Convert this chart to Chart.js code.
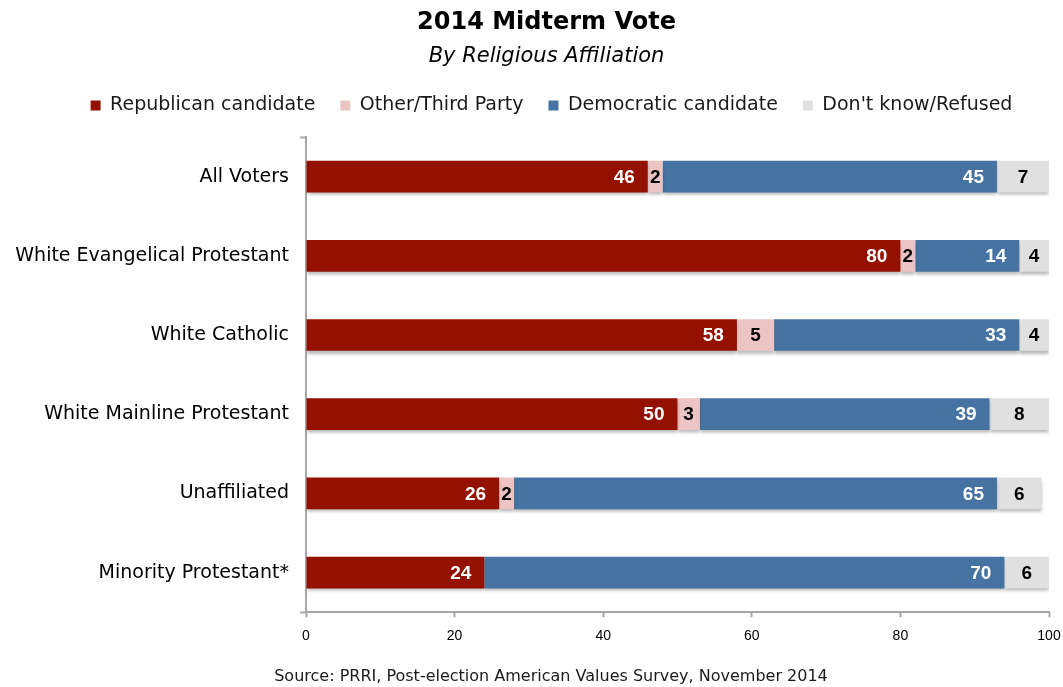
<!DOCTYPE html>
<html>
<head>
<meta charset="utf-8">
<script src="https://cdn.jsdelivr.net/npm/chart.js@4"></script>
<style>
  html, body { margin: 0; padding: 0; background: #fff; }
  #wrap { position: relative; width: 1063px; height: 687px; }
</style>
</head>
<body>
<div id="wrap"><canvas id="voteChart"></canvas></div>
<script>
// --- DATA ---
const groups = ['All Voters', 'White Evangelical Protestant', 'White Catholic', 'White Mainline Protestant', 'Unaffiliated', 'Minority Protestant*'];
const republican = [46, 80, 58, 50, 26, 24];
const otherParty = [2, 2, 5, 3, 2, 0];
const democratic = [45, 14, 33, 39, 65, 70];
const dontKnow = [7, 4, 4, 8, 6, 6];
const xTicks = [0, 20, 40, 60, 80, 100];

const FONT = "'DejaVu Sans', 'Liberation Sans', sans-serif";
const NUM_FONT = "'Liberation Sans', Arial, sans-serif";
const AXIS_GRAY = '#a6a6a6';

// series colours + how the value label sits on each segment
const series = [
    { label: 'Republican candidate', data: republican, color: '#941100', text: '#fff', inside: 'end' },
    { label: 'Other/Third Party', data: otherParty, color: '#ecc4c3', text: '#000', inside: 'center' },
    { label: 'Democratic candidate', data: democratic, color: '#4673a2', text: '#fff', inside: 'end' },
    { label: "Don't know/Refused", data: dontKnow, color: '#e0e0e0', text: '#000', inside: 'center' },
];

// soft drop shadow under the bars, value labels, source line
const barDecor = {
    id: 'barDecor',
    beforeLayout(chart) {
        // extra room between the legend row and the plot
        const lg = chart.legend;
        if (lg && !lg._extraGap) {
            const fit = lg.fit.bind(lg);
            lg.fit = function () { fit(); this.height += 12; };
            lg._extraGap = true;
        }
    },
    afterLayout(chart) {
        // headings sit a little right of the canvas centre
        chart.boxes.forEach(b => {
            if (b.position !== 'top') return;
            const dx = b === chart.legend ? 15 : 10;
            b.left += dx;
            b.right += dx;
        });
    },
    beforeDatasetsDraw(chart) {
        const ctx = chart.ctx;
        ctx.save();
        ctx.shadowColor = 'rgba(0,0,0,0.28)';
        ctx.shadowBlur = 3;
        ctx.shadowOffsetX = 0;
        ctx.shadowOffsetY = 3;
    },
    afterDatasetsDraw(chart) {
        const ctx = chart.ctx;
        ctx.restore();
        ctx.save();
        ctx.font = 'bold 19px ' + NUM_FONT;
        ctx.textBaseline = 'middle';
        chart.data.datasets.forEach((ds, di) => {
            const meta = chart.getDatasetMeta(di);
            const s = series[di];
            meta.data.forEach((bar, i) => {
                const v = ds.data[i];
                if (!v) return;
                ctx.fillStyle = s.text;
                if (s.inside === 'end') {
                    ctx.textAlign = 'right';
                    ctx.fillText(v, bar.x - 13, bar.y + 1);
                } else {
                    ctx.textAlign = 'center';
                    ctx.fillText(v, (bar.x + bar.base) / 2, bar.y + 1);
                }
            });
        });
        ctx.restore();
    },
    afterDraw(chart) {
        const ctx = chart.ctx;
        ctx.save();
        ctx.font = '16px ' + FONT;
        ctx.fillStyle = '#1a1a1a';
        ctx.textAlign = 'center';
        ctx.textBaseline = 'alphabetic';
        ctx.fillText('Source: PRRI, Post-election American Values Survey, November 2014', 551, chart.height - 6);
        ctx.restore();
    }
};

function renderVoteChart() {
    const ctx = document.getElementById('voteChart').getContext('2d');
    new Chart(ctx, {
        type: 'bar',
        data: {
            labels: groups,
            datasets: series.map(s => ({
                label: s.label,
                data: s.data,
                backgroundColor: s.color,
                borderWidth: 0,
                barPercentage: 0.4,
                categoryPercentage: 1.0,
            }))
        },
        options: {
            indexAxis: 'y',
            responsive: true,
            maintainAspectRatio: false,
            animation: false,
            layout: { padding: { left: 10, right: 0, top: 0, bottom: 31 } },
            plugins: {
                title: {
                    display: true,
                    text: '2014 Midterm Vote',
                    color: '#000',
                    font: { family: FONT, size: 24, weight: 'bold' },
                    padding: { top: 8, bottom: 2 }
                },
                subtitle: {
                    display: true,
                    text: 'By Religious Affiliation',
                    color: '#000',
                    font: { family: FONT, size: 21, style: 'italic' },
                    padding: { top: 5, bottom: 2 }
                },
                legend: {
                    labels: {
                        color: '#1a1a1a',
                        font: { family: FONT, size: 19 },
                        boxWidth: 10,
                        boxHeight: 10,
                        padding: 25
                    }
                },
                tooltip: { enabled: false }
            },
            scales: {
                x: {
                    stacked: true,
                    min: 0,
                    max: 100,
                    afterBuildTicks: (scale) => { scale.ticks = xTicks.map(v => ({ value: v })); },
                    afterFit: (scale) => { scale.paddingLeft = 0; scale.paddingRight = 14; },
                    ticks: { color: '#000', font: { family: NUM_FONT, size: 14 }, padding: 11 },
                    grid: { drawOnChartArea: false, tickLength: 5, tickColor: AXIS_GRAY, tickWidth: 2 },
                    border: { color: AXIS_GRAY, width: 2 }
                },
                y: {
                    stacked: true,
                    afterFit: (scale) => { scale.width = 296; },
                    ticks: { color: '#000', font: { family: FONT, size: 19 }, padding: 11 },
                    grid: {
                        drawOnChartArea: false,
                        tickLength: 6,
                        tickWidth: 2,
                        tickColor: (c) => (c.index === 0 || c.index === undefined) ? AXIS_GRAY : 'rgba(0,0,0,0)'
                    },
                    border: { color: AXIS_GRAY, width: 2 }
                }
            }
        },
        plugins: [barDecor]
    });
}

renderVoteChart();
</script>
</body>
</html>
